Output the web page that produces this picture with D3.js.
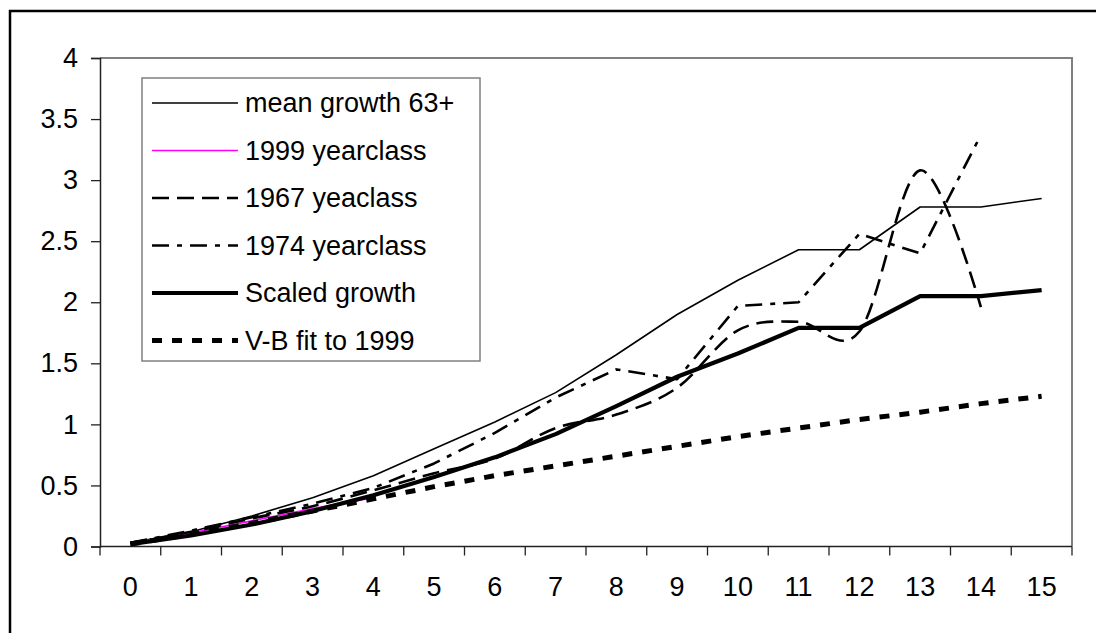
<!DOCTYPE html>
<html>
<head>
<meta charset="utf-8">
<script src="https://cdn.jsdelivr.net/npm/d3@7"></script>
<style>
  html, body { margin: 0; padding: 0; background: #fff; }
  svg { display: block; }
  text { font-family: "Liberation Sans", Arial, sans-serif; fill: #000; }
</style>
</head>
<body>
<svg id="chart" width="1096" height="633"></svg>
<script>
const categories = ["0","1","2","3","4","5","6","7","8","9","10","11","12","13","14","15"];
const yTicks = [0, 0.5, 1, 1.5, 2, 2.5, 3, 3.5, 4];

const meanGrowth = [0.03,0.12,0.25,0.40,0.58,0.80,1.02,1.26,1.57,1.90,2.18,2.43,2.43,2.78,2.78,2.85];
const yc1999     = [0.03,0.11,0.21,0.31,0.40];
const yc1967     = [0.03,0.12,0.23,0.33,0.46,0.60,0.72,0.97,1.08,1.30,1.77,1.84,1.76,3.08,1.96];
const yc1974     = [0.03,0.13,0.24,0.35,0.48,0.68,0.93,1.22,1.45,1.37,1.97,2.00,2.56,2.40,3.37];
const scaledGrowth = [0.02,0.09,0.18,0.29,0.42,0.57,0.73,0.92,1.15,1.39,1.58,1.79,1.79,2.05,2.05,2.10];
const vbFit      = [0.02,0.10,0.19,0.29,0.39,0.49,0.58,0.66,0.74,0.82,0.90,0.97,1.04,1.10,1.17,1.23];

const seriesNames = ["mean growth 63+","1999 yearclass","1967 yeaclass","1974 yearclass","Scaled growth","V-B fit to 1999"];

const series = [
  {name: seriesNames[0], values: meanGrowth,  color: "#000", width: 1.6, dash: null, smooth: false},
  {name: seriesNames[1], values: yc1999,      color: "#FF00FF", width: 1.6, dash: null, smooth: false},
  {name: seriesNames[2], values: yc1967,      color: "#000", width: 2.6, dash: "17 8", smooth: true},
  {name: seriesNames[3], values: yc1974,      color: "#000", width: 2.6, dash: "17 8 5 8", smooth: false},
  {name: seriesNames[4], values: scaledGrowth,color: "#000", width: 4.2, dash: null, smooth: false},
  {name: seriesNames[5], values: vbFit,       color: "#000", width: 5, dash: "10 10", smooth: false}
];

const svg = d3.select("#chart");
const L = 100, R = 1072, T = 58, B = 546.5;

// outer chart border
svg.append("rect").attr("x", 10).attr("y", 11).attr("width", 1100).attr("height", 640)
  .attr("fill", "#fff").attr("stroke", "#000").attr("stroke-width", 2.5);

const x = d3.scaleBand().domain(categories).range([L, R]).padding(0);
const y = d3.scaleLinear().domain([0, 4]).range([B, T]);

// plot area border (gray top & right)
svg.append("path")
  .attr("d", `M${L},${T}H${R}V${B}`)
  .attr("fill", "none").attr("stroke", "#808080").attr("stroke-width", 2);

// y axis
const yAxis = svg.append("g").attr("transform", `translate(${L},0)`)
  .call(d3.axisLeft(y).tickValues(yTicks).tickFormat(d => String(d)).tickSize(9).tickPadding(13));
yAxis.select(".domain").attr("stroke", "#222").attr("stroke-width", 1.5);
yAxis.selectAll(".tick line").attr("stroke", "#222").attr("stroke-width", 1.3);
yAxis.selectAll("text").style("font-size", "27px").attr("fill", "#000")
  .style("font-family", '"Liberation Sans", Arial, sans-serif');

// x axis: labels at band centres, tick marks at band boundaries
const xAxis = svg.append("g").attr("transform", `translate(0,${B})`)
  .call(d3.axisBottom(x).tickSize(0).tickPadding(30));
xAxis.select(".domain").remove();
xAxis.selectAll("text").style("font-size", "27px").attr("fill", "#000")
  .style("font-family", '"Liberation Sans", Arial, sans-serif');
svg.append("line").attr("x1", L).attr("x2", R).attr("y1", B).attr("y2", B)
  .attr("stroke", "#222").attr("stroke-width", 1.5);
const bounds = categories.map(c => x(c)).concat([x.range()[1]]);
svg.append("g").selectAll("line").data(bounds).join("line")
  .attr("x1", d => d).attr("x2", d => d).attr("y1", B).attr("y2", B + 9)
  .attr("stroke", "#222").attr("stroke-width", 1.3);

// lines
const cx = (i) => x(categories[i]) + x.bandwidth() / 2;
const gLines = svg.append("g");
series.forEach(s => {
  const line = d3.line()
    .x((d, i) => cx(i))
    .y(d => y(d))
    .curve(s.smooth ? d3.curveCardinal.tension(0) : d3.curveLinear);
  gLines.append("path")
    .datum(s.values)
    .attr("d", line)
    .attr("fill", "none")
    .attr("stroke", s.color)
    .attr("stroke-width", s.width)
    .attr("stroke-dasharray", s.dash)
    .attr("stroke-linejoin", "round");
});

// legend
const lg = svg.append("g");
lg.append("rect").attr("x", 142).attr("y", 78).attr("width", 338).attr("height", 283)
  .attr("fill", "#fff").attr("stroke", "#808080").attr("stroke-width", 1.5);
const rowY = [103, 150.5, 198, 245.5, 293, 340.5];
series.forEach((s, i) => {
  lg.append("line").attr("x1", 152).attr("x2", 238).attr("y1", rowY[i]).attr("y2", rowY[i])
    .attr("stroke", s.color).attr("stroke-width", s.width).attr("stroke-dasharray", s.dash);
  lg.append("text").attr("x", 245).attr("y", rowY[i]).attr("dy", "0.35em")
    .style("font-size", "27px").text(s.name);
});
</script>
</body>
</html>
